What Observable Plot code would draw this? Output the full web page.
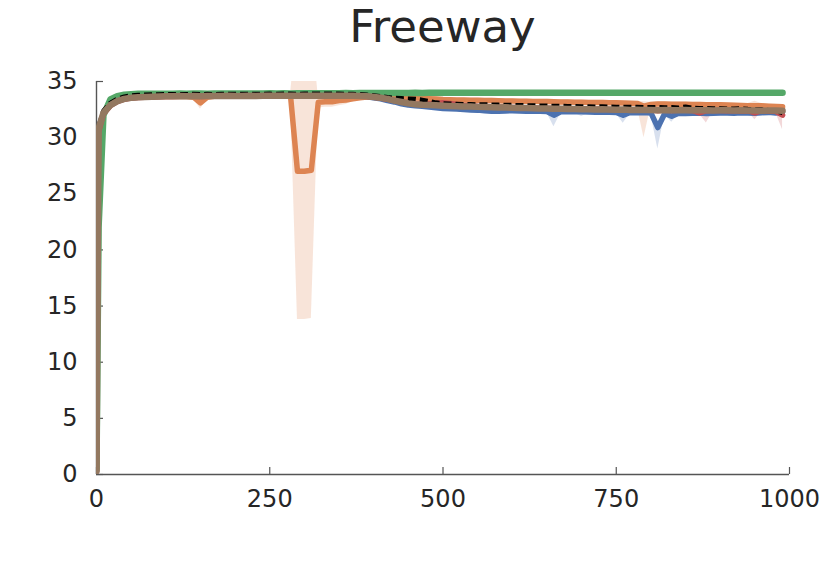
<!DOCTYPE html>
<html>
<head>
<meta charset="utf-8">
<script src="https://cdn.jsdelivr.net/npm/d3@7"></script>
<script src="https://cdn.jsdelivr.net/npm/@observablehq/plot@0.6"></script>
<style>
  html, body { margin: 0; padding: 0; background: #fff; }
  #wrap { position: relative; width: 830px; height: 584px; font-family: "DejaVu Sans", sans-serif; }
  #title { position: absolute; top: 0; left: 442.5px; transform: translateX(-50%); font-size: 45px; line-height: 54px; color: #262626; white-space: nowrap; }
  #chart { position: absolute; top: 60px; left: 0; }
</style>
</head>
<body>
<div id="wrap">
  <div id="title">Freeway</div>
  <div id="chart"></div>
</div>
<script>
const title = "Freeway";
const xTicks = [0, 250, 500, 750, 1000];
const yTicks = [0, 5, 10, 15, 20, 25, 30, 35];

const xs = [0, 3,
  10, 20, 30, 40, 50, 60, 70, 80, 90, 100,
  110, 120, 130, 140, 150, 160, 170, 180, 190, 200,
  210, 220, 230, 240, 250, 260, 270, 280, 290, 300,
  310, 320, 330, 340, 350, 360, 370, 380, 390, 400,
  410, 420, 430, 440, 450, 460, 470, 480, 490, 500,
  510, 520, 530, 540, 550, 560, 570, 580, 590, 600,
  610, 620, 630, 640, 650, 660, 670, 680, 690, 700,
  710, 720, 730, 740, 750, 760, 770, 780, 790, 800,
  810, 820, 830, 840, 850, 860, 870, 880, 890, 900,
  910, 920, 930, 940, 950, 960, 970, 980, 990];

const blue = [0.3, 30.6,
  32.2, 32.9, 33.25, 33.45, 33.55, 33.6, 33.62, 33.65, 33.66, 33.68,
  33.68, 33.69, 33.69, 33.7, 33.68, 33.7, 33.7, 33.69, 33.71, 33.7,
  33.7, 33.71, 33.69, 33.71, 33.72, 33.71, 33.71, 33.72, 33.71, 33.72,
  33.71, 33.72, 33.73, 33.72, 33.72, 33.71, 33.7, 33.68, 33.64, 33.55,
  33.45, 33.3, 33.18, 33.02, 32.9, 32.85, 32.8, 32.72, 32.66, 32.6,
  32.58, 32.55, 32.5, 32.47, 32.45, 32.4, 32.36, 32.35, 32.38, 32.4,
  32.38, 32.36, 32.35, 32.36, 32.33, 32.0, 32.3, 32.32, 32.3, 32.3,
  32.28, 32.27, 32.28, 32.26, 32.25, 32.0, 32.25, 32.22, 32.24, 32.2,
  30.9, 32.15, 31.9, 32.18, 32.15, 32.17, 32.2, 32.15, 32.18, 32.2,
  32.2, 32.18, 32.22, 32.2, 32.18, 32.22, 32.25, 32.2, 32.3];

const orange = [0.3, 30.7,
  32.2, 32.9, 33.25, 33.45, 33.55, 33.6, 33.62, 33.65, 33.66, 33.67,
  33.67, 33.68, 33.66, 33.6, 33.1, 33.6, 33.68, 33.69, 33.7, 33.69,
  33.7, 33.7, 33.69, 33.7, 33.71, 33.7, 33.7, 33.7, 27.0, 27.0,
  27.1, 33.15, 33.2, 33.2, 33.3, 33.35, 33.45, 33.55, 33.62, 33.65,
  33.65, 33.62, 33.6, 33.58, 33.56, 33.52, 33.5, 33.47, 33.45, 33.4,
  33.38, 33.36, 33.35, 33.33, 33.32, 33.3, 33.3, 33.28, 33.27, 33.26,
  33.25, 33.24, 33.23, 33.22, 33.22, 33.2, 33.18, 33.18, 33.16, 33.15,
  33.14, 33.12, 33.12, 33.1, 33.1, 33.08, 33.06, 33.05, 32.8, 32.95,
  33.0, 33.0, 32.98, 32.97, 32.98, 32.95, 32.96, 32.94, 32.93, 32.92,
  32.9, 32.88, 32.87, 32.85, 32.85, 32.83, 32.8, 32.78, 32.75];

const green = [0.5, 22.0,
  32.0, 33.4, 33.7, 33.82, 33.87, 33.9, 33.9, 33.91, 33.92, 33.92,
  33.92, 33.93, 33.92, 33.93, 33.93, 33.92, 33.93, 33.94, 33.93, 33.94,
  33.94, 33.93, 33.94, 33.94, 33.95, 33.94, 33.95, 33.94, 33.95, 33.95,
  33.95, 33.96, 33.95, 33.96, 33.96, 33.97, 33.96, 33.97, 33.97, 33.97,
  33.98, 33.97, 33.98, 33.98, 33.98, 33.99, 33.98, 33.99, 33.99, 34.0,
  33.99, 34.0, 33.99, 34.0, 34.0, 33.99, 34.0, 34.0, 34.0, 34.0,
  34.0, 34.0, 33.99, 34.0, 34.0, 34.0, 34.0, 33.99, 34.0, 34.0,
  34.0, 33.99, 34.0, 34.0, 34.0, 34.0, 33.99, 34.0, 34.0, 34.0,
  34.0, 34.0, 33.99, 34.0, 34.0, 34.0, 34.0, 33.99, 34.0, 34.0,
  33.99, 34.0, 34.0, 34.0, 33.99, 34.0, 34.0, 34.0, 34.0];

const red = [0.3, 30.5,
  32.1, 32.85, 33.2, 33.42, 33.53, 33.58, 33.6, 33.63, 33.65, 33.66,
  33.67, 33.68, 33.68, 33.69, 33.67, 33.69, 33.7, 33.69, 33.7, 33.69,
  33.7, 33.71, 33.69, 33.7, 33.72, 33.7, 33.71, 33.72, 33.7, 33.71,
  33.7, 33.72, 33.72, 33.71, 33.72, 33.71, 33.7, 33.69, 33.66, 33.6,
  33.52, 33.42, 33.3, 33.2, 33.1, 33.02, 33.0, 33.02, 33.05, 33.1,
  33.05, 32.95, 32.88, 32.85, 32.8, 32.78, 32.75, 32.72, 32.7, 32.68,
  32.68, 32.65, 32.63, 32.62, 32.62, 32.6, 32.58, 32.58, 32.56, 32.55,
  32.55, 32.52, 32.54, 32.5, 32.5, 32.48, 32.5, 32.46, 32.48, 32.45,
  32.4, 32.45, 32.42, 32.44, 32.45, 32.42, 32.2, 32.4, 32.44, 32.42,
  32.4, 32.42, 32.38, 32.4, 32.2, 32.4, 32.38, 32.35, 32.0];

const black = [0.2, 31.0,
  32.4, 33.1, 33.45, 33.65, 33.75, 33.8, 33.82, 33.84, 33.85, 33.86,
  33.86, 33.87, 33.86, 33.88, 33.87, 33.88, 33.87, 33.88, 33.89, 33.88,
  33.88, 33.89, 33.88, 33.89, 33.9, 33.89, 33.9, 33.9, 33.89, 33.9,
  33.9, 33.91, 33.9, 33.9, 33.9, 33.89, 33.88, 33.86, 33.82, 33.76,
  33.68, 33.6, 33.54, 33.5, 33.47, 33.44, 33.36, 33.24, 33.12, 33.05,
  33.02, 33.0, 32.98, 32.97, 32.95, 32.95, 32.93, 32.92, 32.9, 32.9,
  32.88, 32.87, 32.86, 32.85, 32.84, 32.82, 32.83, 32.8, 32.8, 32.78,
  32.78, 32.76, 32.77, 32.75, 32.74, 32.73, 32.72, 32.72, 32.7, 32.7,
  32.72, 32.68, 32.7, 32.66, 32.75, 32.64, 32.62, 32.63, 32.6, 32.6,
  32.58, 32.57, 32.6, 32.55, 32.52, 32.5, 32.45, 32.4, 32.2];

const brown = [0.3, 30.8,
  32.2, 32.9, 33.25, 33.45, 33.55, 33.6, 33.62, 33.65, 33.66, 33.68,
  33.68, 33.7, 33.69, 33.7, 33.68, 33.7, 33.71, 33.7, 33.72, 33.7,
  33.71, 33.72, 33.7, 33.72, 33.73, 33.72, 33.72, 33.73, 33.72, 33.73,
  33.72, 33.73, 33.74, 33.73, 33.74, 33.73, 33.72, 33.7, 33.68, 33.62,
  33.55, 33.45, 33.3, 33.18, 33.05, 32.97, 32.92, 32.9, 32.88, 32.85,
  32.82, 32.8, 32.78, 32.77, 32.74, 32.72, 32.7, 32.68, 32.7, 32.66,
  32.65, 32.63, 32.62, 32.6, 32.6, 32.58, 32.57, 32.55, 32.56, 32.53,
  32.52, 32.5, 32.52, 32.5, 32.48, 32.5, 32.47, 32.48, 32.46, 32.47,
  32.45, 32.46, 32.44, 32.45, 32.46, 32.43, 32.44, 32.45, 32.42, 32.44,
  32.43, 32.42, 32.44, 32.41, 32.42, 32.4, 32.42, 32.41, 32.4];

// spread of each shaded band: usual half-width, plus spikes [x, extra below, extra above]
const blueSpread = 0.12;
const blueSpikes = [[660, 0.9, 0], [700, 0.3, 0], [760, 0.6, 0], [810, 1.8, 0.2], [830, 0.4, 0]];
const orangeSpread = 0.2;
const orangeSpikes = [[150, 0.35, 0.05], [290, 13, 13], [300, 13, 13], [310, 13, 13],
  [320, 0.3, 0.3], [330, 0.3, 0.3], [340, 0.3, 0.3], [350, 0.25, 0.25], [360, 0.2, 0.2],
  [790, 2.6, 0.2], [950, 0.3, 0.2]];
const greenSpread = 0.06;
const greenSpikes = [];
const redSpread = 0.1;
const redSpikes = [[880, 1.0, 0.1], [950, 0.5, 0], [990, 1.2, 0.2]];
const brownSpread = 0.12;
const brownSpikes = [];

const palette = {
  blue: "#4c72b0", orange: "#dd8452", green: "#55a868",
  red: "#c44e52", black: "#000000", brown: "#937860"
};

function rows(values, spread, spikes) {
  const extra = new Map(spikes.map(([x, lo, hi]) => [x, [lo, hi]]));
  return xs.map((x, i) => {
    const [lo, hi] = extra.get(x) || [0, 0];
    return {x, y: values[i], lo: values[i] - spread - lo, hi: values[i] + spread + hi};
  });
}

const dBlue = rows(blue, blueSpread, blueSpikes);
const dOrange = rows(orange, orangeSpread, orangeSpikes);
const dGreen = rows(green, greenSpread, greenSpikes);
const dRed = rows(red, redSpread, redSpikes);
const dBrown = rows(brown, brownSpread, brownSpikes);
const dBlack = xs.map((x, i) => ({x, y: black[i]}));

const W = 830, H = 524;
const mL = 96, mR = 41, mT = 21, mB = 110;
const innerW = W - mL - mR, innerH = H - mT - mB;
const tickLen = 7;
const axisColor = "#555555";

const band = (d, c) => Plot.areaY(d, {x: "x", y1: "lo", y2: "hi", fill: c, fillOpacity: 0.22, clip: true});
const line = (d, c, w, extra = {}) => Plot.line(d, {x: "x", y: "y", stroke: c, strokeWidth: w,
  strokeLinecap: "round", strokeLinejoin: "round", clip: true, ...extra});

const chart = Plot.plot({
  width: W, height: H,
  marginLeft: mL, marginRight: mR, marginTop: mT, marginBottom: mB,
  style: {fontFamily: "DejaVu Sans, sans-serif", fontSize: "24px", color: "#262626", background: "#fff"},
  x: {domain: [0, 1000], axis: null},
  y: {domain: [0, 35], axis: null},
  marks: [
    band(dBlue, palette.blue),
    band(dOrange, palette.orange),
    band(dGreen, palette.green),
    band(dRed, palette.red),
    band(dBrown, palette.brown),
    Plot.ruleX([0], {stroke: axisColor, strokeWidth: 1.4}),
    Plot.ruleY([0], {stroke: axisColor, strokeWidth: 1.4}),
    Plot.tickX(xTicks, {x: d => d, stroke: axisColor, strokeWidth: 1.2, insetTop: innerH - tickLen}),
    Plot.tickY(yTicks, {y: d => d, stroke: axisColor, strokeWidth: 1.2, insetRight: innerW - tickLen}),
    Plot.axisX({ticks: xTicks, tickSize: 0, tickPadding: 15, fontSize: 24, fill: "#262626",
      tickFormat: d3.format("d"), label: null}),
    Plot.axisY({ticks: yTicks, tickSize: 0, tickPadding: 19, fontSize: 24, fill: "#262626",
      tickFormat: d3.format("d"), label: null}),
    line(dBlue, palette.blue, 5.5),
    line(dOrange, palette.orange, 5.5),
    line(dGreen, palette.green, 6.5),
    line(dRed, palette.red, 5.5),
    line(dBlack, palette.black, 4.5, {strokeDasharray: "8,4", strokeLinecap: "butt"}),
    line(dBrown, palette.brown, 6.5)
  ]
});
document.getElementById("title").textContent = title;
document.getElementById("chart").appendChild(chart);
</script>
</body>
</html>
